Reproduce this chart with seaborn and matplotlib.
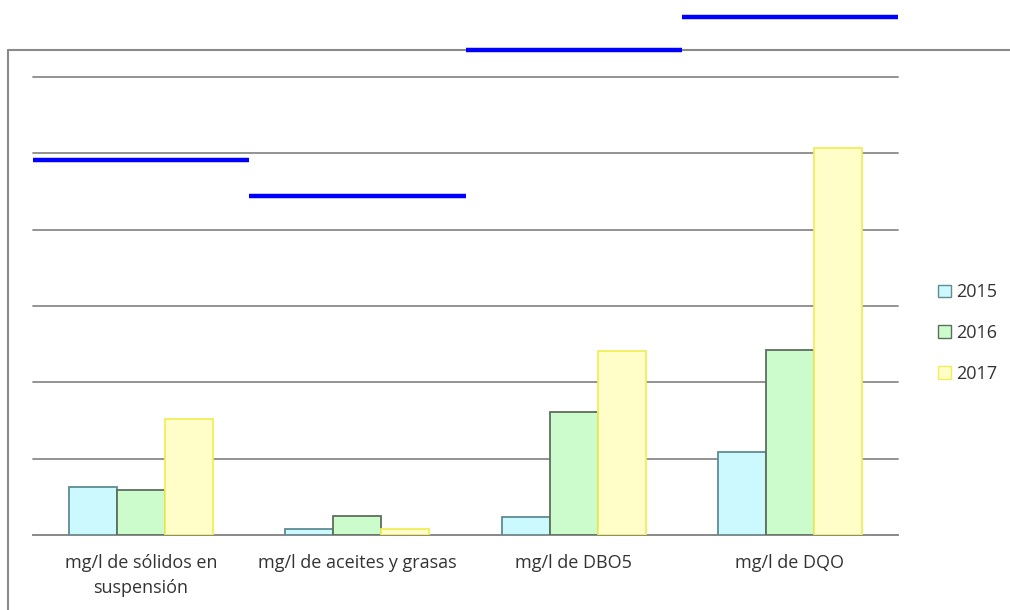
import pandas as pd
import matplotlib.pyplot as plt
import seaborn as sns
from matplotlib.patches import Patch
from matplotlib.lines import Line2D

# Data (arbitrary units: one gridline = 10)
categories = ["mg/l de sólidos en\nsuspensión", "mg/l de aceites y grasas",
              "mg/l de DBO5", "mg/l de DQO"]
years = ["2015", "2016", "2017"]
v2015 = [6.3, 0.8, 2.4, 10.9]
v2016 = [5.9, 2.5, 16.1, 24.2]
v2017 = [15.2, 0.8, 24.1, 50.7]
limits = [49.1, 44.4, 63.6, 67.8]

fill_colors = ["#ccf9fd", "#ccfccc", "#fffdc8"]
edge_colors = ["#5f8c92", "#5e6e5e", "#f2ee5a"]

rows = []
for yr, vals in zip(years, [v2015, v2016, v2017]):
    for c, v in zip(categories, vals):
        rows.append({"cat": c, "year": yr, "value": v})
df = pd.DataFrame(rows)

sns.set_style("white")
plt.rcParams['font.family'] = ['Open Sans', 'DejaVu Sans']

fig = plt.figure(figsize=(10.1, 6.1), dpi=100)
ax = fig.add_axes([33 / 1010, 1 - 535 / 610, 865 / 1010, 458 / 610])
ax.patch.set_alpha(0)

sns.barplot(data=df, x="cat", y="value", hue="year", order=categories,
            hue_order=years, palette=fill_colors, saturation=1, width=0.665,
            ax=ax, legend=False, zorder=3)
for cont, ec in zip(ax.containers, edge_colors):
    for p in cont.patches:
        p.set_edgecolor(ec)
        p.set_linewidth(1.3)

# limit lines per category
for i, lim in enumerate(limits):
    ax.hlines(lim, i - 0.5, i + 0.5, color="#0000ff", lw=3.2, clip_on=False, zorder=5)

ax.set_xlim(-0.5, len(categories) - 0.5)
ax.set_ylim(0, 60)
ax.set_yticks(range(0, 61, 10))
ax.yaxis.grid(True, color="#8a8a8a", lw=1.3)
for gl in ax.get_ygridlines():
    gl.set_clip_on(False)
ax.set_axisbelow(True)
ax.tick_params(axis="y", left=False, labelleft=False)
ax.tick_params(axis="x", which="major", length=0, pad=14, labelsize=13, labelcolor="#333333")
for lbl in ax.get_xticklabels():
    lbl.set_linespacing(1.5)
ax.set_xticks([x - 0.5 for x in range(len(categories) + 1)], minor=True)
ax.tick_params(axis="x", which="minor", length=5, color="#8a8a8a", width=1.2, direction="out")
ax.set_xlabel("")
ax.set_ylabel("")
for s in ["left", "right", "top"]:
    ax.spines[s].set_visible(False)
ax.spines["bottom"].set_color("#8a8a8a")
ax.spines["bottom"].set_linewidth(1.3)

handles = [Patch(facecolor=f, edgecolor=e, lw=1) for f, e in zip(fill_colors, edge_colors)]
fig.legend(handles, years, loc="center left", bbox_to_anchor=(0.913, 0.454),
           frameon=False, handlelength=0.7, handleheight=0.7, handletextpad=0.3,
           labelspacing=1.25, fontsize=13, labelcolor="#333333")

# outer chart frame
fig.add_artist(Line2D([8 / 1010, 1], [1 - 50 / 610] * 2, transform=fig.transFigure,
                      color="#8a8a8a", lw=1.5, zorder=-1))
fig.add_artist(Line2D([8 / 1010] * 2, [0, 1 - 50 / 610], transform=fig.transFigure,
                      color="#8a8a8a", lw=1.5, zorder=-1))

fig.savefig("out.png", dpi=100)
